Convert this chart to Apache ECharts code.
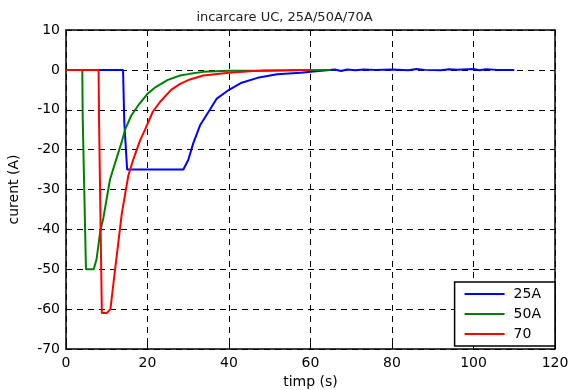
<!DOCTYPE html>
<html>
<head>
    <meta charset="utf-8">
    <title>incarcare UC</title>
    <script src="https://cdn.jsdelivr.net/npm/echarts@6/dist/echarts.min.js"></script>
    <style>
        html, body { margin: 0; padding: 0; background: #fff; }
    </style>
</head>
<body>
    <div id="main" style="width: 569px;height:390px;"></div>
    <script type="text/javascript">
    // values: time (s) and current (A)
    var xTicks = [0, 20, 40, 60, 80, 100, 120];
    var yTicks = [-70, -60, -50, -40, -30, -20, -10, 0, 10];

    var t25 = [0, 14, 14.3, 15, 28.8, 30, 31.2, 32.9, 35.3, 37, 40, 42.9, 47, 51.8, 57.6, 62, 66, 67.5, 69, 71, 73, 76, 80, 84, 86, 88, 92, 94, 96, 100, 101.5, 103, 106, 110];
    var v25 = [0, 0, -13, -25, -25, -22.6, -18.5, -13.9, -10, -7.2, -5, -3.3, -2, -1.1, -0.7, -0.3, 0.1, -0.3, 0.1, -0.1, 0.1, 0, 0.1, -0.1, 0.2, 0, -0.1, 0.15, 0.05, 0.2, -0.1, 0.15, 0, 0];

    var t50 = [0, 4, 4.1, 4.9, 6.8, 7.5, 8.4, 9.2, 10.8, 12, 13.7, 14.5, 16, 18, 20, 22, 25, 28, 30.4, 33.7, 40, 48, 55, 65];
    var v50 = [0, 0, -12, -50, -50, -47.5, -40.5, -37, -27.5, -23.5, -18, -15, -11.5, -8.5, -6, -4.3, -2.5, -1.4, -1, -0.5, -0.2, -0.15, -0.1, 0];

    var t70 = [0, 8, 8.1, 8.8, 10, 10.9, 12.1, 13.7, 15.3, 16.5, 18.2, 19.4, 21.3, 23.1, 25.8, 28, 30.4, 33.7, 40, 46, 52, 60];
    var v70 = [0, 0, -12, -61, -61, -60, -49.6, -36, -26.5, -22.5, -17.6, -15, -10.5, -8, -5, -3.5, -2.4, -1.4, -0.7, -0.3, -0.15, 0];

    var names = ['25A', '50A', '70'];
    var colors = ['#0000ff', '#008000', '#ff0000'];

    function pairs(t, v) {
        var out = [];
        for (var i = 0; i < t.length; i++) out.push([t[i], v[i]]);
        return out;
    }

    var font = 'DejaVu Sans';
    var gridLine = { show: true, lineStyle: { color: '#000', type: [6, 5], width: 1 } };

    function xAx(pos, labels) {
        return {
            type: 'value', position: pos, min: 0, max: 120, interval: 20,
            name: labels ? 'timp (s)' : '', nameLocation: 'middle', nameGap: 26,
            nameTextStyle: { color: '#000', fontSize: 14, fontFamily: font },
            axisLine: { show: true, onZero: false, lineStyle: { color: '#000', width: 1.5 } },
            axisTick: { show: true, inside: true, length: 5, lineStyle: { color: '#000' } },
            axisLabel: { show: labels, color: '#000', fontSize: 14, fontFamily: font, margin: 7 },
            splitLine: labels ? gridLine : { show: false }
        };
    }
    function yAx(pos, labels) {
        return {
            type: 'value', position: pos, min: -70, max: 10, interval: 10,
            name: labels ? 'curent (A)' : '', nameLocation: 'middle', nameGap: 45, nameRotate: 90,
            nameTextStyle: { color: '#000', fontSize: 14, fontFamily: font },
            axisLine: { show: true, onZero: false, lineStyle: { color: '#000', width: 1.5 } },
            axisTick: { show: true, inside: true, length: 5, lineStyle: { color: '#000' } },
            axisLabel: { show: labels, color: '#000', fontSize: 14, fontFamily: font, margin: 6 },
            splitLine: labels ? gridLine : { show: false }
        };
    }

    var series = [[t25, v25], [t50, v50], [t70, v70]].map(function (d, i) {
        return {
            name: names[i], type: 'line', data: pairs(d[0], d[1]),
            showSymbol: false, symbol: 'none',
            lineStyle: { color: colors[i], width: 2 },
            itemStyle: { color: colors[i] },
            z: 3 + i
        };
    });

    var myChart = echarts.init(document.getElementById('main'));
    var option = {
        backgroundColor: '#fff',
        animation: false,
        title: {
            text: 'incarcare UC, 25A/50A/70A', left: 'center', top: 6,
            textStyle: { color: '#222', fontSize: 13, fontWeight: 'normal', fontFamily: font }
        },
        legend: {
            orient: 'vertical', right: 14, bottom: 44,
            data: names, icon: 'rect', itemWidth: 40, itemHeight: 2, itemGap: 6,
            backgroundColor: '#fff', borderColor: '#000', borderWidth: 1.5,
            padding: [5, 14, 5, 10],
            textStyle: { color: '#000', fontSize: 14, fontFamily: font, padding: [0, 0, 0, 4] }
        },
        grid: { left: 66, right: 14, top: 30, bottom: 41, outerBoundsMode: 'none' },
        xAxis: [xAx('bottom', true), xAx('top', false)],
        yAxis: [yAx('left', true), yAx('right', false)],
        series: series
    };
    myChart.setOption(option);
    </script>
</body>
</html>
